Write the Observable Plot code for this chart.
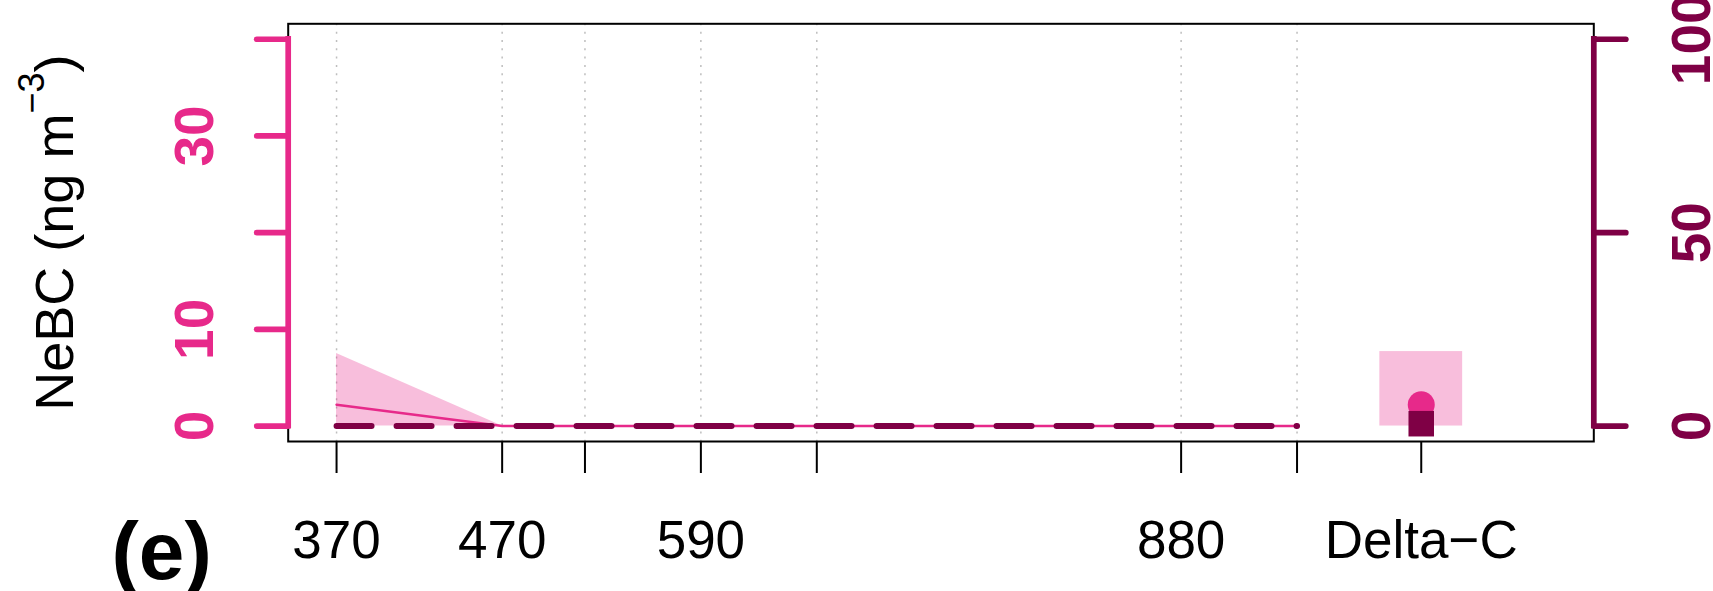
<!DOCTYPE html>
<html>
<head>
<meta charset="utf-8">
<script src="https://cdn.jsdelivr.net/npm/d3@7"></script>
<script src="https://cdn.jsdelivr.net/npm/@observablehq/plot@0.6"></script>
<style>
  html, body { margin: 0; padding: 0; background: #ffffff; }
  svg { display: block; }
</style>
</head>
<body>
<div id="chart"></div>
<script>
// ---- data ----
const wavelengths = [370, 470, 520, 590, 660, 880, 950];
const nebcMean = [2.2, 0, 0, 0, 0, 0, 0];
const nebcLow = [0, 0, 0, 0, 0, 0, 0];
const nebcHigh = [7.5, 0, 0, 0, 0, 0, 0];
const secondSeries = [0, 0, 0, 0, 0, 0, 0]; // right-axis units

const deltaX = [1025];
const deltaMean = [2.2];
const deltaLow = [0];
const deltaHigh = [7.7];
const deltaSecond = [0.6]; // right-axis units

const xTickValues = [370, 470, 520, 590, 660, 880, 950, 1025];
const xTickLabels = ["370", "470", "", "590", "", "880", "", "Delta\u2212C"];
const leftTicks = [0, 10, 20, 30, 40];
const leftLabels = [0, 10, 30];
const rightTicks = [0, 50, 100];
const rightLabels = [0, 50, 100];
const axisRatio = 2.5; // right axis units per left axis unit
const xLim = [370, 1100];
const yLim = [0, 40];
const yTitleMain = "NeBC (ng m";
const yTitleSup = "\u22123";
const yTitleEnd = ")";
const panelLabel = "(e)";

// ---- styles ----
const pink = "#E7298A";
const dark = "#7F0045";
const pad = 0.04;
const xDomain = [xLim[0] - pad * (xLim[1] - xLim[0]), xLim[1] + pad * (xLim[1] - xLim[0])];
const yDomain = [yLim[0] - pad * (yLim[1] - yLim[0]), yLim[1] + pad * (yLim[1] - yLim[0])];

const series = wavelengths.map((w, i) => ({
  w, mean: nebcMean[i], lo: nebcLow[i], hi: nebcHigh[i], second: secondSeries[i] / axisRatio
}));
const delta = deltaX.map((x, i) => ({
  x, mean: deltaMean[i], lo: deltaLow[i], hi: deltaHigh[i], second: deltaSecond[i] / axisRatio
}));
const deltaHalf = 25;
const yTitleFull = yTitleMain + yTitleSup + yTitleEnd;

const svg = Plot.plot({
  width: 1713,
  height: 591,
  marginLeft: 287.7,
  marginRight: 119.7,
  marginTop: 23.3,
  marginBottom: 150,
  x: {domain: xDomain},
  y: {domain: yDomain},
  style: {fontFamily: "'Liberation Sans', Arial, Helvetica, sans-serif", background: "#ffffff", overflow: "visible"},
  marks: [
    Plot.ruleX(wavelengths, {x: d => d, stroke: "#BEBEBE", strokeWidth: 1.5, strokeDasharray: "2,6.33"}),
    Plot.areaY(series, {x: "w", y1: "lo", y2: "hi", fill: pink, fillOpacity: 0.3}),
    Plot.rect(delta, {x1: d => d.x - deltaHalf, x2: d => d.x + deltaHalf, y1: "lo", y2: "hi", fill: pink, fillOpacity: 0.3}),
    Plot.lineY(series, {x: "w", y: "mean", stroke: pink, strokeWidth: 2.5}),
    Plot.lineY(series, {x: "w", y: "second", stroke: dark, strokeWidth: 6, strokeDasharray: "35,25", strokeLinecap: "round"}),
    Plot.dot(delta, {x: "x", y: "mean", r: 13.5, fill: pink, stroke: null}),
    Plot.dot(delta, {x: "x", y: "second", symbol: "square", r: 14.4, fill: dark, stroke: null}),
    Plot.frame({stroke: "#000", strokeWidth: 2}),
    // left axis
    Plot.ruleX([xDomain[0]], {x: d => d, y1: yLim[0], y2: yLim[1], stroke: pink, strokeWidth: 5.7, strokeLinecap: "square"}),
    Plot.axisY(leftTicks, {anchor: "left", tickSize: 31, stroke: pink, strokeWidth: 5.7, strokeLinecap: "round", tickFormat: () => "", label: null}),
    Plot.text(leftLabels, {y: d => d, text: d => String(d), frameAnchor: "left", dx: -75.7, rotate: -90, lineAnchor: "bottom", textAnchor: "middle", fontWeight: "bold", fontSize: 55, fill: pink}),
    // right axis
    Plot.ruleX([xDomain[1]], {x: d => d, y1: yLim[0], y2: yLim[1], stroke: dark, strokeWidth: 5.7, strokeLinecap: "square"}),
    Plot.axisY(rightTicks.map(v => v / axisRatio), {anchor: "right", tickSize: 31.5, stroke: dark, strokeWidth: 5.7, strokeLinecap: "round", tickFormat: () => "", label: null}),
    Plot.text(rightLabels, {y: d => d / axisRatio, text: d => String(d), frameAnchor: "right", dx: 116, rotate: -90, lineAnchor: "bottom", textAnchor: "middle", fontWeight: "bold", fontSize: 55, fill: dark}),
    // x axis
    Plot.axisX(xTickValues, {anchor: "bottom", tickSize: 32, stroke: "#000", strokeWidth: 2, tickFormat: () => "", label: null}),
    Plot.text(xTickValues, {x: d => d, text: (d, i) => xTickLabels[i], frameAnchor: "bottom", dy: 116, lineAnchor: "bottom", textAnchor: "middle", fontSize: 53, fill: "#000"}),
    // titles
    Plot.text([yTitleFull], {text: d => d, frameAnchor: "left", dx: -215.7, rotate: -90, lineAnchor: "bottom", textAnchor: "middle", fontSize: 54, fill: "#000"}),
    Plot.text([panelLabel], {text: d => d, frameAnchor: "bottom-left", dx: -176.7, dy: 137, lineAnchor: "bottom", textAnchor: "start", fontSize: 82, fontWeight: "bold", fill: "#000"})
  ]
});

// superscript for the y-axis title
const ns = "http://www.w3.org/2000/svg";
for (const t of svg.querySelectorAll("text")) {
  if (t.textContent === yTitleFull) {
    t.textContent = "";
    const a = document.createElementNS(ns, "tspan");
    a.textContent = yTitleMain;
    const b = document.createElementNS(ns, "tspan");
    b.textContent = yTitleSup;
    b.setAttribute("font-size", "36");
    b.setAttribute("dy", "-29");
    const c = document.createElementNS(ns, "tspan");
    c.textContent = yTitleEnd;
    c.setAttribute("dy", "29");
    t.append(a, b, c);
  }
}

document.getElementById("chart").append(svg);
</script>
</body>
</html>
